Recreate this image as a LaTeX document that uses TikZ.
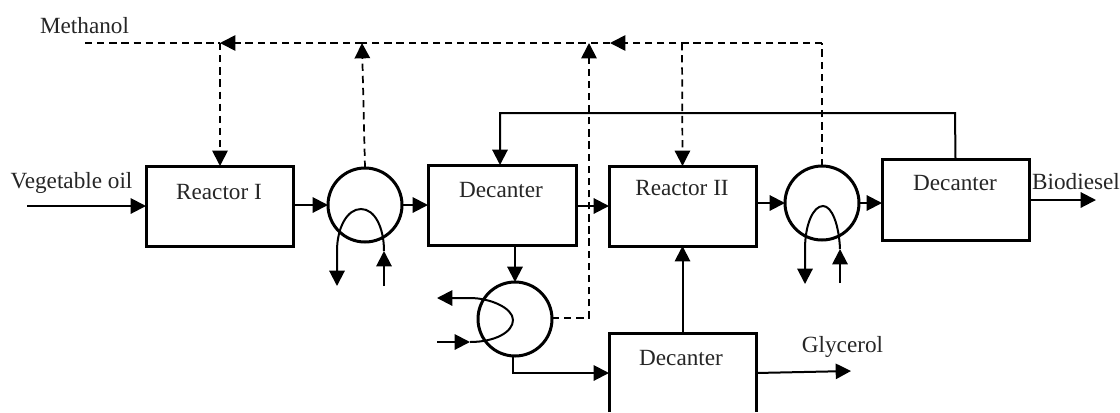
\documentclass[tikz,border=0pt]{standalone}
\usepackage{fontspec}
\setmainfont{Liberation Serif}
\usetikzlibrary{arrows.meta}
\tikzset{
  unitbox/.style={draw=black,line width=2.25pt,fill=white,inner sep=0pt,outer sep=0pt,rectangle},
  openbox/.style={inner sep=0pt,outer sep=0pt,rectangle},
  boxline/.style={draw=black,line width=2.25pt},
  hx/.style={draw=black,line width=2.25pt,circle,minimum size=55.5pt,inner sep=0pt,outer sep=0pt},
  lbl/.style={inner sep=0pt,font=\fontsize{17.4}{20}\selectfont,text=black!85},
  flow/.style={line width=1.5pt,draw=black},
  arr/.style={flow,-{Triangle[length=11.5pt,width=11.5pt]}},
  dsh/.style={line width=1.3pt,draw=black,dash pattern=on 5.5pt off 3.6pt},
  darr/.style={dsh,-{Triangle[length=11.5pt,width=11.5pt,sep=0pt]}}
}
\begin{document}
\begin{tikzpicture}[x=0.75pt,y=-0.75pt]
\useasboundingbox[fill=white] (0,0) rectangle (1120,412);
% units
\node[unitbox,minimum width=110.25pt,minimum height=60pt] (r1) at (219.5,206) {};
\node[unitbox,minimum width=111pt,minimum height=60pt] (d1) at (502,205) {};
\node[unitbox,minimum width=110.25pt,minimum height=60pt] (r2) at (682.5,206) {};
\node[unitbox,minimum width=110.25pt,minimum height=60.75pt] (d2) at (955.5,199.5) {};
\node[openbox,minimum width=110.25pt,minimum height=59.25pt] (d3) at (682.5,372.5) {};
\draw[boxline] (d3.south west) -- (d3.north west) -- (d3.north east) -- (d3.south east);
\node[hx] (c1) at (365,205) {};
\node[hx] (c2) at (822,203) {};
\node[hx] (c3) at (515,319) {};
% labels
\node[lbl] (tr1) at (219,192) {Reactor I};
\node[lbl] (td1) at (501,190) {Decanter};
\node[lbl] (tr2) at (682,188) {Reactor II};
\node[lbl] (td2) at (955,183) {Decanter};
\node[lbl] (td3) at (681,358) {Decanter};
\node[lbl] (tm) at (84.5,26) {Methanol};
\node[lbl] (tv) at (71.5,183) {Vegetable oil};
\node[lbl] (tb) at (1076,182) {Biodiesel};
\node[lbl] (tg) at (842.5,347) {Glycerol};
% free ends
\coordinate (vstart) at (27,206);
\coordinate (mstart) at (85,43);
\coordinate (j1) at (220,43);
\coordinate (j2) at (362,43);
\coordinate (j3) at (589,43);
\coordinate (j4) at (610,43);
\coordinate (j5) at (682,43);
\coordinate (j6) at (822,43);
\coordinate (j7) at (589,318);
\coordinate (bend1) at (500,113);
\coordinate (bend2) at (955,113);
\coordinate (bioend) at (1096,200);
\coordinate (glyend) at (851,371);
\coordinate (c3out) at (513,373);
% solid process lines
\draw[arr] (vstart) -- (r1.west |- vstart);
\draw[arr] (r1.east |- c1.west) -- (c1.west);
\draw[arr] (c1.east) -- (d1.west |- c1.east);
\draw[arr] (d1.east |- r2.west) -- (r2.west);
\draw[arr] (r2.east |- c2.west) -- (c2.west);
\draw[arr] (c2.east) -- (d2.west |- c2.east);
\draw[arr] (d2.east |- bioend) -- (bioend);
\draw[arr] (d1.south -| c3.north) -- (c3.north);
\draw[arr] (d3.north) -- (r2.south);
\draw[arr] (d3.east |- 0,373) -- (glyend);
\draw[arr] (c3.south -| c3out) -- (c3out) -- (d3.west |- c3out);
\draw[arr] (d2.north) -- (bend2) -- (bend1) -- (d1.north -| bend1);
% dashed lines
\draw[dsh] (mstart) -- (j1);
\draw[darr] (j1) -- (r1.north -| j1);
\draw[darr] (j2) -- (j1);
\draw[darr] (c1.north) -- (j2);
\draw[dsh] (j4) -- (j2);
\draw[darr] (c3.east |- j7) -- (j7) -- (j3);
\draw[darr] (j6) -- (j4);
\draw[darr] (j5) -- (r2.north);
\draw[dsh] (c2.north) -- (j6);
% coils
\coordinate (a1) at (384,286);
\coordinate (a2) at (384,251);
\coordinate (a3) at (361,209);
\coordinate (a4) at (337,251);
\coordinate (a5) at (337,286);
\draw[arr] (a1) -- (a2);
\draw[arr] (a2) .. controls (384,228) and (375,209) .. (a3) .. controls (347,209) and (337,228) .. (a4) -- (a5);
\coordinate (b1) at (840,283);
\coordinate (b2) at (840,249);
\coordinate (b3) at (823,206);
\coordinate (b4) at (805,249);
\coordinate (b5) at (805,284);
\draw[arr] (b1) -- (b2);
\draw[arr] (b2) .. controls (839,225) and (832,206) .. (b3) .. controls (813,206) and (805,225) .. (b4) -- (b5);
\coordinate (e1) at (437,342);
\coordinate (e2) at (470,342);
\coordinate (e3) at (513,320);
\coordinate (e4) at (470,298);
\coordinate (e5) at (437,298);
\draw[arr] (e1) -- (e2);
\draw[arr] (e2) .. controls (495,342) and (513,332) .. (e3) .. controls (513,308) and (490,298) .. (e4) -- (e5);
\end{tikzpicture}
\end{document}
